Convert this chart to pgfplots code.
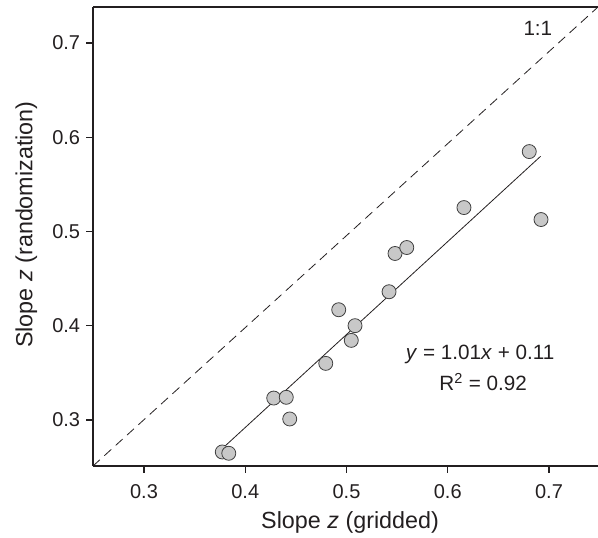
\documentclass[border=0pt]{standalone}
\usepackage{fontspec}
\setmainfont{Liberation Sans}
\usepackage{pgfplots}
\pgfplotsset{compat=1.18}
\definecolor{txt}{RGB}{35,31,32}
\definecolor{ptfill}{RGB}{200,200,200}
\begin{document}
\fontsize{15}{18}\selectfont
\begin{tikzpicture}
\begin{axis}[
  scale only axis, width=378.75pt, height=344.25pt,
  xmin=0.2496, xmax=0.7484, ymin=0.2512, ymax=0.7382,
  axis x line*=box, axis y line*=left,
  xtick={0.3,0.4,0.5,0.6,0.7}, ytick={0.3,0.4,0.5,0.6,0.7},
  xtick pos=left, ytick pos=left,
  tick align=outside, major tick length=5pt,
  axis line style={line width=1.1pt, txt},
  every tick/.style={line width=1.1pt, txt},
  /pgf/number format/.cd, fixed, precision=1, fixed zerofill, assume math mode=true,
  /pgfplots/.cd,
  tick label style={font=\fontsize{15}{18}\selectfont},
  xticklabel style={yshift=-3.5pt, text=txt},
  yticklabel style={xshift=0.5pt, text=txt},
  xlabel={Slope \textit{z} (gridded)},
  ylabel={Slope \textit{z} (randomization)},
  label style={font=\fontsize{17.5}{20}\selectfont},
  xlabel style={at={(axis description cs:0.509,0)}, anchor=center, yshift=-42pt, text=txt},
  ylabel style={at={(axis description cs:0,0.526)}, anchor=center, yshift=50pt, text=txt},
  clip=true,
]
\addplot[dashed, dash pattern=on 7pt off 4.5pt, line width=0.6pt, txt] coordinates {(0.2496,0.2512) (0.7484,0.7382)};
\addplot[only marks, mark=*, mark size=5.25pt, mark options={fill=ptfill, draw=black!75, line width=0.6pt}] coordinates {
(0.3773,0.2661)
(0.3837,0.2647)
(0.4281,0.3233)
(0.4405,0.3241)
(0.4439,0.3011)
(0.4795,0.3601)
(0.4923,0.4170)
(0.5047,0.3845)
(0.5084,0.4001)
(0.5420,0.4361)
(0.5479,0.4767)
(0.5595,0.4830)
(0.6160,0.5254)
(0.6805,0.5848)
(0.6921,0.5127)
};
\addplot[line width=0.6pt, txt] coordinates {(0.3783,0.2707) (0.6917,0.5798)};
\node[text=txt, font=\fontsize{15.5}{18}\selectfont] at (axis cs:0.689,0.7152) {1:1};
\node[text=txt, font=\fontsize{15.5}{18}\selectfont] at (axis cs:0.632,0.3696) {\textit{y} = 1.01\textit{x} + 0.11};
\node[text=txt, font=\fontsize{15.5}{18}\selectfont] at (axis cs:0.635,0.3400) {R\textsuperscript{2} = 0.92};
\end{axis}
\pgfresetboundingbox
\path[use as bounding box] ([xshift=-69.75pt,yshift=-53.25pt]current axis.south west) rectangle ([yshift=5.25pt]current axis.north east);
\end{tikzpicture}
\end{document}
